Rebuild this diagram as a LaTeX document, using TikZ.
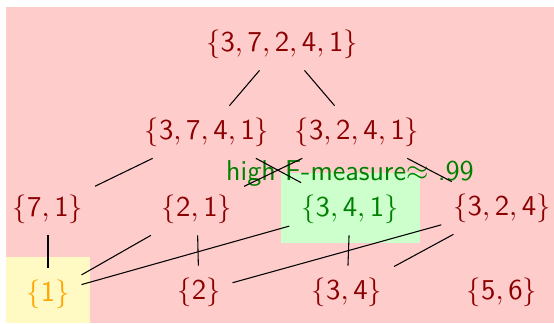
\documentclass[tikz,border=0pt]{standalone}
\usepackage{fix-cm}
\definecolor{setred}{RGB}{139,0,0}
\definecolor{bgpink}{RGB}{255,204,204}
\definecolor{bggreen}{RGB}{204,255,204}
\definecolor{txtgreen}{RGB}{0,128,0}
\definecolor{bgyellow}{RGB}{255,249,196}
\definecolor{txtorange}{RGB}{255,165,0}
\newcommand\St[1]{$\{\mathsf{#1}\}$}
\begin{document}
\begin{tikzpicture}[x=0.393pt,y=-0.393pt,
  setnode/.style={inner sep=4.5pt,text=setred,font=\fontsize{11.3}{13.5}\selectfont},
  edge/.style={draw=black,line width=0.42pt}]
\useasboundingbox (0,0) rectangle (554,323);
\fill[bgpink] (6,7) rectangle (554,323);
\fill[bgyellow] (6,257) rectangle (90,323);
\fill[bggreen] (281,173) rectangle (420,243);
\node[setnode] (top) at (282,44) {\St{3,7,2,4,1}};
\node[setnode] (a1) at (207,132) {\St{3,7,4,1}};
\node[setnode] (a2) at (357,132) {\St{3,2,4,1}};
\node[setnode] (b1) at (48,209) {\St{7,1}};
\node[setnode] (b2) at (197,209) {\St{2,1}};
\node[setnode,text=txtgreen] (b3) at (350,209) {\St{3,4,1}};
\node[setnode] (b4) at (502,208) {\St{3,2,4}};
\node[setnode,text=txtorange] (c1) at (48,294) {\St{1}};
\node[setnode] (c2) at (199,292) {\St{2}};
\node[setnode] (c3) at (347,292) {\St{3,4}};
\node[setnode] (c4) at (502,292) {\St{5,6}};
\node[anchor=base,inner sep=0pt,text=txtgreen,font=\fontsize{11.3}{13.5}\selectfont] (lab) at (350,180) {\textsf{high F-measure}$\approx$ \textsf{.99}};
\draw[edge] (top) -- (a1);
\draw[edge] (top) -- (a2);
\draw[edge] (a1) -- (b1);
\draw[edge] (a1) -- (b3);
\draw[edge] (a2) -- (b2);
\draw[edge] (a2) -- (b4);
\draw[edge] (b1) -- (c1);
\draw[edge] (b2) -- (c1);
\draw[edge] (b3) -- (c1);
\draw[edge] (b2) -- (c2);
\draw[edge] (b4) -- (c2);
\draw[edge] (b3) -- (c3);
\draw[edge] (b4) -- (c3);
\end{tikzpicture}
\end{document}
